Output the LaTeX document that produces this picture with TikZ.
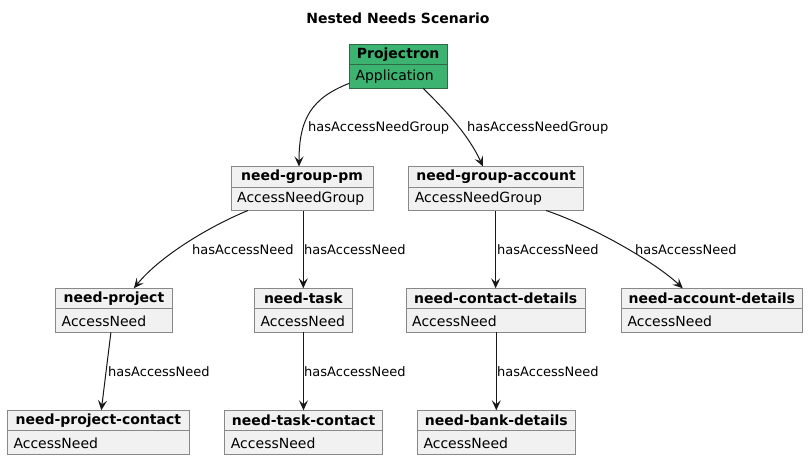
\documentclass[tikz,border=0pt]{standalone}
\usepackage{fontspec}
\setmainfont{DejaVu Sans}
\usetikzlibrary{arrows.meta,calc}
\definecolor{boxfill}{HTML}{F1F1F1}
\definecolor{boxline}{HTML}{888888}
\definecolor{appfill}{HTML}{3CB371}
\definecolor{appline}{HTML}{2E6B45}
\definecolor{edgecol}{HTML}{181818}
\tikzset{
  objbox/.style={draw=boxline, fill=boxfill, line width=0.9pt, rectangle, inner sep=0pt, outer sep=0pt, minimum height=44pt, anchor=north west},
  appbox/.style={objbox, draw=appline, fill=appfill},
  septext/.style={draw=boxline, line width=0.9pt},
  objtitle/.style={inner sep=0pt, font=\fontsize{14}{16}\selectfont\bfseries},
  objbody/.style={inner sep=0pt, anchor=west, font=\fontsize{14}{16}\selectfont},
  arr/.style={draw=edgecol, line width=1pt, -{Stealth[length=10pt,width=9pt,inset=4pt,fill=edgecol]}},
  elabel/.style={inner sep=0pt, anchor=west, font=\fontsize{13}{15}\selectfont},
}
% name, left, top, width, title, body, style
\newcommand\objnode[7]{%
  \node[#7, minimum width=#4pt] (#1) at (#2,#3) {};
  \draw[septext, draw=#7line] ([yshift=-20.5pt]#1.north west) -- ([yshift=-20.5pt]#1.north east);
  \node[objtitle] (#1-t) at ([yshift=-10pt]#1.north) {#5};
  \node[objbody] (#1-b) at ([xshift=6pt,yshift=-32.5pt]#1.north west) {#6};
}
\colorlet{objboxline}{boxline}
\colorlet{appboxline}{appline}
\begin{document}
\begin{tikzpicture}[x=1pt,y=-1pt]
\useasboundingbox[fill=white] (0,0) rectangle (808,460);
\node[font=\fontsize{14}{16}\selectfont\bfseries, inner sep=0pt] (title) at (398,18) {Nested Needs Scenario};

\objnode{app}{349.3}{44.3}{97.7}{Projectron}{Application}{appbox}
\objnode{pm}{231}{166.5}{142}{need-group-pm}{AccessNeedGroup}{objbox}
\objnode{pga}{408.7}{166.5}{174.6}{need-group-account}{AccessNeedGroup}{objbox}
\objnode{np}{55.5}{288.3}{116.8}{need-project}{AccessNeed}{objbox}
\objnode{nt}{254.3}{288.3}{98}{need-task}{AccessNeed}{objbox}
\objnode{ncd}{406}{288.3}{179.3}{need-contact-details}{AccessNeed}{objbox}
\objnode{nad}{621.3}{288.3}{181}{need-account-details}{AccessNeed}{objbox}
\objnode{npc}{7.3}{410.3}{182}{need-project-contact}{AccessNeed}{objbox}
\objnode{ntc}{224.7}{410.3}{157.6}{need-task-contact}{AccessNeed}{objbox}
\objnode{nbd}{417.3}{410.3}{158}{need-bank-details}{AccessNeed}{objbox}

% edges
\draw[arr] ([yshift=5pt]app.south west) .. controls (312,98) and (299,118) .. ([xshift=-3pt]pm.north);
\node[elabel] (l1) at (308,128) {hasAccessNeedGroup};
\draw[arr] ([xshift=25pt]app.south) .. controls (445,110) and (468,134) .. ([xshift=-13pt]pga.north);
\node[elabel] (l2) at (467,128) {hasAccessNeedGroup};

\draw[arr] ([xshift=17pt]pm.south west) .. controls (210,226) and (160,256) .. ([xshift=20pt]np.north);
\node[elabel] (l3) at (192,250) {hasAccessNeed};
\draw[arr] (nt.north |- pm.south) -- (nt.north);
\node[elabel] (l4) at (304,250) {hasAccessNeed};
\draw[arr] (ncd.north |- pga.south) -- (ncd.north);
\node[elabel] (l5) at (497,250) {hasAccessNeed};
\draw[arr] ([xshift=50pt]pga.south) .. controls (592,226) and (655,262) .. ([xshift=-29pt]nad.north);
\node[elabel] (l6) at (635,250) {hasAccessNeed};

\draw[arr] ([xshift=-3pt]np.south) -- ([xshift=3pt]npc.north);
\node[elabel] (l7) at (108,372) {hasAccessNeed};
\draw[arr] (ntc.north |- nt.south) -- (ntc.north);
\node[elabel] (l8) at (304,372) {hasAccessNeed};
\draw[arr] (nbd.north |- ncd.south) -- (nbd.north);
\node[elabel] (l9) at (497,372) {hasAccessNeed};
\end{tikzpicture}
\end{document}
